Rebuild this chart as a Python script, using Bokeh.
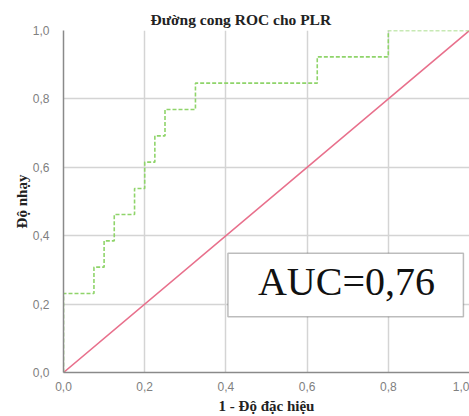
from bokeh.plotting import figure
from bokeh.models import Range1d, FixedTicker, BoxAnnotation, Label, Title
from bokeh.embed import file_html
from bokeh.resources import INLINE

# ROC curve corners (1 - specificity, sensitivity)
fpr = [0.0, 0.0, 0.075, 0.075, 0.1, 0.1, 0.125, 0.125, 0.175, 0.175, 0.2, 0.2,
       0.225, 0.225, 0.25, 0.25, 0.325, 0.325, 0.625, 0.625, 0.8, 0.8, 1.0]
tpr = [0.0, 0.231, 0.231, 0.308, 0.308, 0.385, 0.385, 0.462, 0.462, 0.538, 0.538, 0.615,
       0.615, 0.692, 0.692, 0.769, 0.769, 0.846, 0.846, 0.923, 0.923, 1.0, 1.0]
ref_x = [0.0, 1.0]
ref_y = [0.0, 1.0]
ticks = [0.0, 0.2, 0.4, 0.6, 0.8, 1.0]
tick_labels = ["0,0", "0,2", "0,4", "0,6", "0,8", "1,0"]
auc_text = "AUC=0,76"

p = figure(width=469, height=416, output_backend="svg", toolbar_location=None,
           x_range=Range1d(0, 1), y_range=Range1d(0, 1),
           min_border_left=63, min_border_right=0, min_border_top=30, min_border_bottom=42,
           title="Đường cong ROC cho PLR")
p.outline_line_color = None
p.background_fill_color = "white"

p.title.align = "left"
p.title.offset = 87
p.title.text_font = "Liberation Serif"
p.title.text_font_size = "15.5px"
p.title.text_font_style = "bold"
p.title.text_color = "#222222"
p.title.standoff = 6

for ax in (p.xaxis[0], p.yaxis[0]):
    ax.ticker = FixedTicker(ticks=ticks)
    ax.major_label_overrides = {t: l for t, l in zip(ticks, tick_labels)}
    ax.major_label_text_font = "Liberation Sans"
    ax.major_label_text_font_size = "12px"
    ax.major_label_text_color = "#808080"
    ax.axis_line_color = "#8a8a8a"
    ax.axis_line_width = 1.5
    ax.major_tick_line_color = None
    ax.minor_tick_line_color = None
    ax.axis_label_text_font = "Liberation Serif"
    ax.axis_label_text_font_style = "bold"
    ax.axis_label_text_font_size = "15px"
    ax.axis_label_text_color = "#222222"

p.xaxis.major_label_standoff = 3
p.yaxis.major_label_standoff = 8
p.xaxis.axis_label = "1 - Độ đặc hiệu"
p.xaxis.axis_label_standoff = 4

ytitle = Title(text="Độ nhạy", align="center",
               text_font="Liberation Serif", text_font_style="bold",
               text_font_size="15px", text_color="#222222", standoff=0)
p.add_layout(ytitle, "left")

for g in (p.xgrid[0], p.ygrid[0]):
    g.ticker = FixedTicker(ticks=ticks)
    g.grid_line_color = "#d4d4d4"
    g.grid_line_width = 1.5

p.line(ref_x, ref_y, line_color="#e8708c", line_width=1.6)
p.line(fpr, tpr, line_color="#8fd46a", line_width=1.6, line_dash="4 2")

box = BoxAnnotation(left=0.405, right=0.985, bottom=0.163, top=0.349,
                    fill_color="white", fill_alpha=1.0,
                    line_color="#222222", line_width=1.5, level="overlay")
p.add_layout(box)
lab = Label(x=0.697, y=0.266, text=auc_text, text_align="center", text_baseline="middle",
            text_font="Liberation Serif", text_font_size="40px", text_color="#111111",
            level="overlay")
p.add_layout(lab)

open("out.html", "w").write(file_html(p, INLINE))
